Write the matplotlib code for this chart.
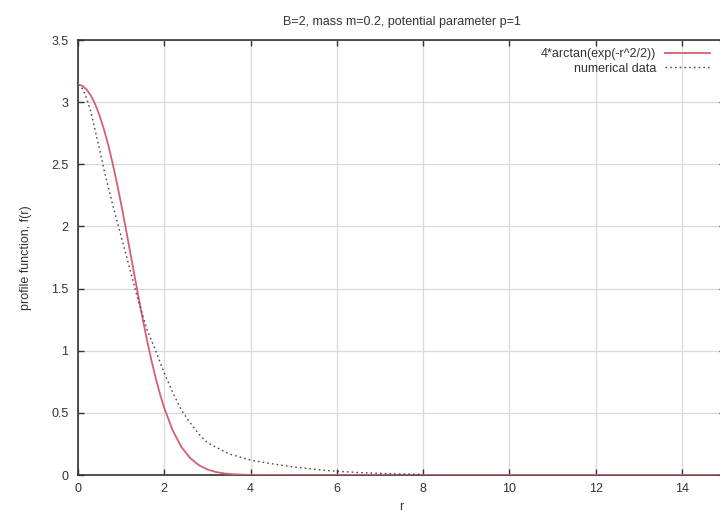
import matplotlib
matplotlib.use("Agg")
import matplotlib.pyplot as plt
from matplotlib.ticker import FormatStrFormatter, MultipleLocator

plt.rcParams['font.family'] = ['Liberation Sans', 'DejaVu Sans']

# analytic profile 4*arctan(exp(-r^2/2))
r_fit = [0.0, 0.1, 0.2, 0.3, 0.4, 0.5, 0.6, 0.7, 0.8, 0.9, 1.0, 1.1, 1.2, 1.3,
         1.4, 1.5, 1.6, 1.7, 1.8, 1.9, 2.0, 2.2, 2.4, 2.6, 2.8, 3.0, 3.2, 3.4,
         3.6, 3.8, 4.0, 5.0, 15.0]
f_fit = [3.1416, 3.1316, 3.1016, 3.0517, 2.9818, 2.8922, 2.7835, 2.6564,
         2.5122, 2.3529, 2.1814, 1.9993, 1.8122, 1.6229, 1.4374, 1.2557,
         1.0848, 0.9261, 0.7815, 0.6520, 0.5381, 0.3548, 0.2243, 0.1361,
         0.0794, 0.0444, 0.0239, 0.0124, 0.0061, 0.0029, 0.0013, 0.0, 0.0]

# numerical data
r_num = [0.0, 0.1, 0.2, 0.3, 0.4, 0.5, 0.6, 0.8, 1.0, 1.2, 1.4, 1.6, 1.8,
         2.0, 2.2, 2.4, 2.6, 2.8, 3.0, 3.5, 4.0, 4.5, 5.0, 5.5, 6.0, 6.5,
         7.0, 7.5, 8.0]
f_num = [3.14, 3.11, 3.03, 2.92, 2.77, 2.62, 2.46, 2.18, 1.92, 1.66, 1.40,
         1.17, 1.00, 0.82, 0.66, 0.52, 0.42, 0.33, 0.26, 0.17, 0.12, 0.09,
         0.065, 0.045, 0.03, 0.02, 0.013, 0.008, 0.005]

title = "B=2, mass m=0.2, potential parameter p=1"
label_fit = "4*arctan(exp(-r^2/2))"
label_num = "numerical data"
xlabel = "r"
ylabel = "profile function, f(r)"

W, H = 720, 515
fig = plt.figure(figsize=(W / 100, H / 100), dpi=100)
left, right, top, bottom = 78, 725, 40, 475
ax = fig.add_axes([left / W, (H - bottom) / H, (right - left) / W, (bottom - top) / H])

ax.plot(r_fit, f_fit, color='#d4606f', lw=1.3, label=label_fit, zorder=3)
ax.plot(r_num, f_num, color='#4a4a4a', lw=1.0, linestyle=(0, (1.2, 2.2)),
        label=label_num, zorder=3)

ax.set_xlim(0, 15)
ax.set_ylim(0, 3.5)
ax.xaxis.set_major_locator(MultipleLocator(2))
ax.yaxis.set_major_locator(MultipleLocator(0.5))
ax.yaxis.set_major_formatter(FormatStrFormatter('%g'))

ax.grid(True, color='#dadada', lw=0.9)
ax.set_axisbelow(True)
for s in ax.spines.values():
    s.set_color('#333333')
    s.set_linewidth(1.2)

ax.tick_params(direction='in', length=4.5, width=1.0, color='#333333',
               top=True, right=True, labelsize=9, labelcolor='#333333')
ax.tick_params(axis='y', pad=7)
ax.tick_params(axis='x', pad=6)

ax.set_title(title, fontsize=9, color='#333333', pad=11)
ax.set_xlabel(xlabel, fontsize=9, color='#333333', labelpad=4)
ax.set_ylabel(ylabel, fontsize=9, color='#333333', labelpad=14)

leg = ax.legend(loc='upper right', bbox_to_anchor=((710 - left) / (right - left), 1 - 8 / (bottom - top)),
                frameon=False, markerfirst=False, fontsize=9, handlelength=3.6,
                handletextpad=0.7, borderaxespad=0, labelspacing=0.2,
                borderpad=0)
for t in leg.get_texts():
    t.set_color('#333333')

fig.savefig('out.png', dpi=100)
